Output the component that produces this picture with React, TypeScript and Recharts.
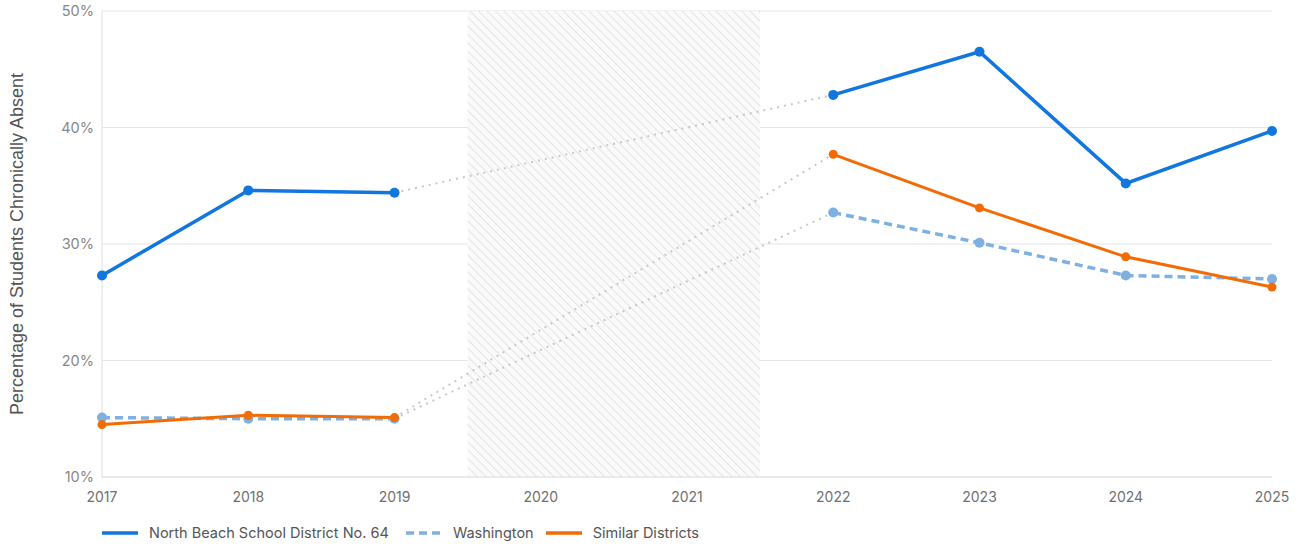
import {
  LineChart,
  Line,
  XAxis,
  YAxis,
  CartesianGrid,
  ReferenceArea,
} from "recharts";

const years = [2017, 2018, 2019, 2020, 2021, 2022, 2023, 2024, 2025];
// null = no data collected (2020, 2021)
const northBeach = [27.3, 34.6, 34.4, null, null, 42.8, 46.5, 35.2, 39.7];
const washington = [15.1, 15.0, 15.0, null, null, 32.7, 30.1, 27.3, 27.0];
const similar = [14.5, 15.3, 15.1, null, null, 37.7, 33.1, 28.9, 26.3];
const yTicks = [10, 20, 30, 40, 50];
const gapStart = 2019;
const gapEnd = 2022;

const NB_COLOR = "#1176dd";
const WA_COLOR = "#7eb0e2";
const SIM_COLOR = "#f36b05";
const GAP_COLOR = "#c8c8c8";
const TICK_COLOR = "#707070";

// keep only the values on either side of the missing years
const bridge = (vals: (number | null)[]) =>
  vals.map((v, i) => (years[i] === gapStart || years[i] === gapEnd ? v : null));

const data = years.map((year, i) => ({
  year,
  northBeach: northBeach[i],
  washington: washington[i],
  similar: similar[i],
  northBeachGap: bridge(northBeach)[i],
  washingtonGap: bridge(washington)[i],
  similarGap: bridge(similar)[i],
}));

const FONT = "Inter, 'Noto Sans', sans-serif";

function YTitle({ viewBox }: any) {
  const cy = viewBox.y + viewBox.height / 2;
  return (
    <text
      x={17}
      y={cy}
      transform={`rotate(-90, 17, ${cy})`}
      textAnchor="middle"
      dominantBaseline="central"
      fill="#555"
      fontSize={18}
      fontFamily="'Liberation Sans', Arial, sans-serif"
    >
      Percentage of Students Chronically Absent
    </text>
  );
}

function LegendItem({ color, dashed, label, gap }: { color: string; dashed?: boolean; label: string; gap: number }) {
  return (
    <div style={{ display: "flex", alignItems: "center", marginRight: gap }}>
      <svg width={36} height={6} style={{ marginRight: 11 }}>
        <line
          x1={0}
          y1={3}
          x2={36}
          y2={3}
          stroke={color}
          strokeWidth={3.5}
          strokeDasharray={dashed ? "8 5" : undefined}
        />
      </svg>
      <span>{label}</span>
    </div>
  );
}

export default function App() {
  return (
    <div style={{ position: "fixed", top: 0, left: 0, width: 1301, height: 546, fontFamily: FONT, background: "#fff" }}>
      <LineChart
        width={1301}
        height={507}
        data={data}
        margin={{ top: 11, right: 29, left: 0, bottom: 0 }}
        style={{ overflow: "visible" }}
      >
        <defs>
          <pattern id="hatch" patternUnits="userSpaceOnUse" width={6} height={6} patternTransform="rotate(-45)">
            <rect width={6} height={6} fill="#fafafa" />
            <line x1={0} y1={0} x2={0} y2={6} stroke="#d2d2d2" strokeWidth={1.1} />
          </pattern>
        </defs>
        <CartesianGrid vertical={false} stroke="#e6e6e6" strokeWidth={1.2} />
        <ReferenceArea x1={2019.5} x2={2021.5} y1={10} y2={50} fill="url(#hatch)" fillOpacity={1} stroke="none" ifOverflow="hidden" />
        <XAxis
          dataKey="year"
          type="number"
          domain={[2017, 2025]}
          ticks={years}
          interval={0}
          height={30}
          axisLine={{ stroke: "#e0e0e0" }}
          tickLine={false}
          tick={{ fill: TICK_COLOR, fontSize: 14, fontFamily: FONT }}
          dy={7}
        />
        <YAxis
          type="number"
          domain={[10, 50]}
          ticks={yTicks}
          width={102}
          tickFormatter={(v) => `${v}%`}
          axisLine={{ stroke: "#e0e0e0" }}
          tickLine={false}
          tick={{ fill: "#888", fontSize: 14.5, fontFamily: FONT }}
          label={<YTitle />}
        />
        <Line dataKey="northBeachGap" stroke={GAP_COLOR} strokeWidth={2} strokeDasharray="2 5" dot={false} connectNulls isAnimationActive={false} />
        <Line dataKey="washingtonGap" stroke={GAP_COLOR} strokeWidth={2} strokeDasharray="2 5" dot={false} connectNulls isAnimationActive={false} />
        <Line dataKey="similarGap" stroke={GAP_COLOR} strokeWidth={2} strokeDasharray="2 5" dot={false} connectNulls isAnimationActive={false} />
        <Line
          dataKey="washington"
          stroke={WA_COLOR}
          strokeWidth={3.5}
          strokeDasharray="8 5"
          dot={{ r: 5, fill: WA_COLOR, stroke: "none" }}
          activeDot={false}
          isAnimationActive={false}
        />
        <Line
          dataKey="similar"
          stroke={SIM_COLOR}
          strokeWidth={3}
          dot={{ r: 4.5, fill: SIM_COLOR, stroke: "none" }}
          activeDot={false}
          isAnimationActive={false}
        />
        <Line
          dataKey="northBeach"
          stroke={NB_COLOR}
          strokeWidth={3.5}
          dot={{ r: 5, fill: NB_COLOR, stroke: "none" }}
          activeDot={false}
          isAnimationActive={false}
        />
      </LineChart>
      <div
        style={{
          position: "absolute",
          left: 102,
          top: 523,
          display: "flex",
          alignItems: "center",
          fontSize: 14.5,
          color: "#555",
          lineHeight: "20px",
        }}
      >
        <LegendItem color={NB_COLOR} label="North Beach School District No. 64" gap={17} />
        <LegendItem color={WA_COLOR} dashed label="Washington" gap={12} />
        <LegendItem color={SIM_COLOR} label="Similar Districts" gap={0} />
      </div>
    </div>
  );
}
